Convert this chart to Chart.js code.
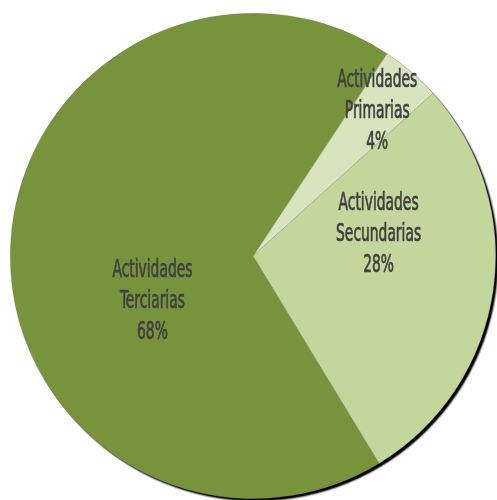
<!DOCTYPE html>
<html>
<head>
<meta charset="utf-8">
<script src="https://cdn.jsdelivr.net/npm/chart.js@4.4.1/dist/chart.umd.min.js"></script>
<style>
  html, body { margin: 0; padding: 0; background: #fff; }
  #wrap { width: 497px; height: 500px; }
</style>
</head>
<body>
<div id="wrap"><canvas id="pie" width="497" height="500"></canvas></div>
<script>
const categories = ["Actividades Primarias", "Actividades Secundarias", "Actividades Terciarias"];
const labelLines = [["Actividades", "Primarias"], ["Actividades", "Secundarias"], ["Actividades", "Terciarias"]];
const values = [4, 28, 68];
const colors = ["#D7E4BD", "#C3D69B", "#77933C"];

// where excel put each label: angle offset from slice middle (deg) and radius fraction
const labelPlace = [
  { dAngle: 0, dist: 0.785 },
  { dAngle: -18, dist: 0.525 },
  { dAngle: -25.5, dist: 0.455 },
];

const shadowPlugin = {
  id: "pieShadow",
  beforeDatasetsDraw(chart) {
    const arc = chart.getDatasetMeta(0).data[0];
    if (!arc) return;
    const ctx = chart.ctx;
    ctx.save();
    ctx.shadowColor = "#000";
    ctx.shadowBlur = 2;
    ctx.shadowOffsetX = 3;
    ctx.shadowOffsetY = 3;
    ctx.fillStyle = "#fff";
    for (let k = 0; k < 2; k++) {
      ctx.beginPath();
      ctx.arc(arc.x, arc.y, arc.outerRadius - 1, 0, Math.PI * 2);
      ctx.fill();
    }
    ctx.restore();
  },
};

const labelPlugin = {
  id: "sliceLabels",
  afterDatasetsDraw(chart) {
    const ctx = chart.ctx;
    const total = values.reduce((a, b) => a + b, 0);
    ctx.save();
    ctx.font = "24px 'DejaVu Sans Condensed', 'DejaVu Sans', sans-serif";
    const sx = 80 / ctx.measureText("Actividades").width;
    chart.getDatasetMeta(0).data.forEach((arc, i) => {
      const mid = (arc.startAngle + arc.endAngle) / 2 + labelPlace[i].dAngle * Math.PI / 180;
      const r = arc.outerRadius * labelPlace[i].dist;
      const x = arc.x + Math.cos(mid) * r;
      const y = arc.y + Math.sin(mid) * r;
      const lines = [...labelLines[i], Math.round(values[i] / total * 100) + "%"];
      ctx.fillStyle = "#404040";
      ctx.strokeStyle = "#404040";
      ctx.lineWidth = 0.7;
      ctx.textAlign = "center";
      ctx.textBaseline = "middle";
      lines.forEach((t, k) => {
        ctx.save();
        ctx.translate(x, y + (k - 1) * 31);
        ctx.scale(sx, 1);
        ctx.fillText(t, 0, 0);
        ctx.strokeText(t, 0, 0);
        ctx.restore();
      });
    });
    ctx.restore();
  },
};

new Chart(document.getElementById("pie"), {
  type: "pie",
  data: {
    labels: categories,
    datasets: [{
      data: values,
      backgroundColor: colors,
      borderColor: "rgba(110,110,110,0.5)",
      borderWidth: 0.6,
    }],
  },
  options: {
    responsive: false,
    animation: false,
    rotation: 33.5,
    layout: { padding: { left: 10, right: 1, top: 13, bottom: 1 } },
    plugins: {
      legend: { display: false },
      tooltip: { enabled: false },
    },
  },
  plugins: [shadowPlugin, labelPlugin],
});
</script>
</body>
</html>
